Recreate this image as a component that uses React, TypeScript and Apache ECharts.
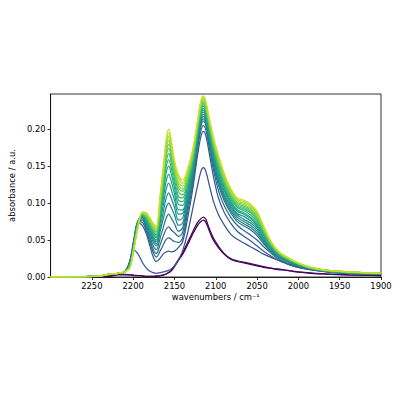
import React, { useEffect, useRef } from "react";
import * as echarts from "echarts";

// wavenumbers (cm^-1), shared x grid for all spectra
const wavenumbers = [2300, 2260, 2240, 2228, 2218, 2210, 2204, 2199, 2194, 2189, 2184, 2180, 2176, 2172, 2167, 2163, 2160, 2157, 2154, 2150, 2145, 2140, 2134, 2128, 2122, 2118, 2115, 2112, 2108, 2103, 2097, 2090, 2082, 2074, 2066, 2058, 2050, 2042, 2034, 2025, 2014, 2000, 1985, 1965, 1940, 1900];

const s01 = [0, 0, 0.0005, 0.001, 0.003, 0.003, 0.003, 0.002, 0.002, 0.0015, 0.001, 0.001, 0.001, 0.001, 0.002, 0.003, 0.004, 0.006, 0.008, 0.014, 0.023, 0.031, 0.044, 0.058, 0.070, 0.075, 0.077, 0.074, 0.063, 0.050, 0.040, 0.031, 0.024, 0.021, 0.019, 0.017, 0.015, 0.013, 0.012, 0.010, 0.009, 0.0065, 0.005, 0.004, 0.003, 0.002];
const s02 = [0, 0, 0.0005, 0.0015, 0.0035, 0.0035, 0.003, 0.0025, 0.002, 0.0015, 0.001, 0.001, 0.001, 0.0015, 0.002, 0.003, 0.004, 0.006, 0.009, 0.015, 0.024, 0.033, 0.047, 0.061, 0.074, 0.079, 0.081, 0.078, 0.066, 0.053, 0.042, 0.032, 0.025, 0.022, 0.020, 0.018, 0.016, 0.014, 0.012, 0.011, 0.009, 0.007, 0.0055, 0.004, 0.003, 0.002];
const s03 = [0, 0.0005, 0.0015, 0.004, 0.005, 0.008, 0.020, 0.036, 0.031, 0.020, 0.012, 0.008, 0.006, 0.005, 0.006, 0.007, 0.008, 0.009, 0.011, 0.015, 0.023, 0.036, 0.060, 0.092, 0.124, 0.143, 0.148, 0.143, 0.125, 0.103, 0.085, 0.071, 0.058, 0.051, 0.046, 0.041, 0.036, 0.031, 0.027, 0.023, 0.018, 0.013, 0.010, 0.007, 0.005, 0.004];
const s04 = [0, 0.0005, 0.0015, 0.004, 0.005, 0.007, 0.022, 0.052, 0.073, 0.070, 0.058, 0.043, 0.028, 0.021, 0.026, 0.032, 0.034, 0.035, 0.034, 0.035, 0.040, 0.048, 0.080, 0.118, 0.165, 0.190, 0.197, 0.191, 0.168, 0.137, 0.108, 0.088, 0.073, 0.062, 0.055, 0.049, 0.042, 0.035, 0.029, 0.023, 0.018, 0.013, 0.010, 0.007, 0.005, 0.004];
const s05 = [0, 0.0005, 0.0015, 0.004, 0.005, 0.007, 0.021, 0.050, 0.075, 0.074, 0.062, 0.048, 0.034, 0.027, 0.036, 0.045, 0.051, 0.053, 0.051, 0.048, 0.047, 0.054, 0.088, 0.124, 0.173, 0.198, 0.205, 0.199, 0.176, 0.146, 0.118, 0.097, 0.081, 0.070, 0.063, 0.057, 0.050, 0.041, 0.033, 0.025, 0.019, 0.014, 0.010, 0.007, 0.005, 0.004];
const s06 = [0, 0.0005, 0.0015, 0.004, 0.005, 0.007, 0.020, 0.049, 0.076, 0.077, 0.065, 0.052, 0.038, 0.032, 0.045, 0.057, 0.065, 0.068, 0.064, 0.060, 0.055, 0.061, 0.095, 0.130, 0.179, 0.204, 0.211, 0.205, 0.182, 0.152, 0.125, 0.104, 0.087, 0.075, 0.069, 0.064, 0.056, 0.045, 0.035, 0.027, 0.021, 0.015, 0.011, 0.008, 0.005, 0.004];
const s07 = [0, 0.0005, 0.0015, 0.004, 0.005, 0.007, 0.019, 0.047, 0.076, 0.079, 0.068, 0.056, 0.043, 0.037, 0.054, 0.069, 0.080, 0.085, 0.080, 0.072, 0.062, 0.067, 0.099, 0.134, 0.182, 0.207, 0.214, 0.208, 0.185, 0.156, 0.129, 0.107, 0.090, 0.078, 0.072, 0.067, 0.059, 0.047, 0.036, 0.028, 0.021, 0.015, 0.011, 0.008, 0.006, 0.004];
const s08 = [0, 0.0005, 0.0015, 0.004, 0.005, 0.007, 0.018, 0.046, 0.076, 0.080, 0.071, 0.060, 0.048, 0.042, 0.063, 0.081, 0.094, 0.100, 0.094, 0.084, 0.070, 0.073, 0.104, 0.137, 0.185, 0.210, 0.217, 0.211, 0.188, 0.159, 0.132, 0.110, 0.093, 0.081, 0.075, 0.070, 0.062, 0.049, 0.038, 0.028, 0.022, 0.016, 0.011, 0.008, 0.006, 0.004];
const s09 = [0, 0.0005, 0.0015, 0.004, 0.005, 0.007, 0.017, 0.045, 0.076, 0.081, 0.073, 0.062, 0.051, 0.045, 0.070, 0.091, 0.107, 0.114, 0.107, 0.094, 0.077, 0.080, 0.109, 0.141, 0.188, 0.213, 0.220, 0.214, 0.191, 0.162, 0.136, 0.113, 0.096, 0.084, 0.078, 0.073, 0.065, 0.051, 0.039, 0.029, 0.022, 0.016, 0.011, 0.008, 0.006, 0.004];
const s10 = [0, 0.0005, 0.0015, 0.004, 0.005, 0.007, 0.016, 0.044, 0.075, 0.082, 0.074, 0.064, 0.053, 0.048, 0.076, 0.101, 0.119, 0.127, 0.119, 0.104, 0.085, 0.086, 0.114, 0.145, 0.190, 0.217, 0.223, 0.217, 0.194, 0.166, 0.139, 0.117, 0.099, 0.086, 0.082, 0.076, 0.068, 0.053, 0.040, 0.030, 0.023, 0.016, 0.012, 0.008, 0.006, 0.004];
const s11 = [0, 0.0005, 0.0015, 0.004, 0.005, 0.007, 0.016, 0.044, 0.075, 0.083, 0.076, 0.066, 0.055, 0.050, 0.081, 0.110, 0.130, 0.139, 0.130, 0.113, 0.091, 0.091, 0.118, 0.148, 0.193, 0.220, 0.226, 0.219, 0.197, 0.169, 0.143, 0.120, 0.101, 0.089, 0.085, 0.079, 0.070, 0.056, 0.042, 0.031, 0.023, 0.017, 0.012, 0.008, 0.006, 0.004];
const s12 = [0, 0.0005, 0.0015, 0.004, 0.005, 0.007, 0.015, 0.043, 0.074, 0.084, 0.077, 0.068, 0.058, 0.053, 0.087, 0.118, 0.141, 0.150, 0.140, 0.121, 0.098, 0.097, 0.122, 0.151, 0.195, 0.222, 0.228, 0.221, 0.199, 0.171, 0.145, 0.122, 0.103, 0.091, 0.087, 0.081, 0.072, 0.057, 0.043, 0.031, 0.024, 0.017, 0.012, 0.008, 0.006, 0.005];
const s13 = [0, 0.0005, 0.0015, 0.004, 0.005, 0.007, 0.015, 0.042, 0.073, 0.084, 0.079, 0.070, 0.060, 0.055, 0.091, 0.125, 0.149, 0.159, 0.148, 0.128, 0.104, 0.102, 0.126, 0.155, 0.198, 0.225, 0.231, 0.224, 0.202, 0.175, 0.149, 0.126, 0.106, 0.094, 0.090, 0.084, 0.075, 0.059, 0.044, 0.032, 0.024, 0.017, 0.012, 0.008, 0.006, 0.005];
const s14 = [0, 0.0005, 0.0015, 0.004, 0.005, 0.007, 0.014, 0.042, 0.073, 0.085, 0.080, 0.072, 0.062, 0.057, 0.095, 0.130, 0.156, 0.167, 0.156, 0.133, 0.109, 0.107, 0.129, 0.157, 0.200, 0.227, 0.233, 0.226, 0.204, 0.177, 0.152, 0.128, 0.108, 0.096, 0.092, 0.087, 0.077, 0.061, 0.045, 0.033, 0.025, 0.018, 0.012, 0.009, 0.006, 0.005];
const s15 = [0, 0.0005, 0.0015, 0.004, 0.005, 0.007, 0.014, 0.041, 0.072, 0.085, 0.081, 0.073, 0.064, 0.059, 0.099, 0.136, 0.163, 0.174, 0.162, 0.139, 0.115, 0.111, 0.132, 0.160, 0.202, 0.229, 0.235, 0.228, 0.206, 0.179, 0.154, 0.130, 0.110, 0.098, 0.094, 0.089, 0.079, 0.062, 0.046, 0.033, 0.025, 0.018, 0.012, 0.009, 0.007, 0.005];
const s16 = [0, 0.0005, 0.0015, 0.004, 0.005, 0.007, 0.014, 0.040, 0.071, 0.086, 0.082, 0.075, 0.066, 0.061, 0.102, 0.140, 0.168, 0.180, 0.168, 0.143, 0.120, 0.116, 0.135, 0.162, 0.204, 0.231, 0.237, 0.230, 0.208, 0.181, 0.156, 0.132, 0.112, 0.100, 0.096, 0.091, 0.081, 0.063, 0.047, 0.034, 0.026, 0.018, 0.012, 0.009, 0.007, 0.005];
const s17 = [0, 0.0005, 0.0015, 0.004, 0.005, 0.007, 0.013, 0.040, 0.070, 0.086, 0.083, 0.076, 0.067, 0.063, 0.105, 0.144, 0.173, 0.185, 0.172, 0.147, 0.124, 0.119, 0.138, 0.165, 0.206, 0.233, 0.239, 0.232, 0.210, 0.183, 0.159, 0.134, 0.114, 0.101, 0.098, 0.093, 0.083, 0.065, 0.047, 0.034, 0.026, 0.018, 0.013, 0.009, 0.007, 0.005];
const s18 = [0, 0.0005, 0.0015, 0.004, 0.005, 0.007, 0.013, 0.039, 0.070, 0.087, 0.085, 0.078, 0.069, 0.065, 0.109, 0.148, 0.178, 0.190, 0.177, 0.151, 0.128, 0.123, 0.141, 0.167, 0.208, 0.235, 0.241, 0.234, 0.212, 0.186, 0.161, 0.137, 0.116, 0.103, 0.100, 0.095, 0.085, 0.066, 0.048, 0.035, 0.026, 0.019, 0.013, 0.009, 0.007, 0.005];
const s19 = [0, 0.0005, 0.0015, 0.004, 0.005, 0.007, 0.012, 0.039, 0.069, 0.087, 0.086, 0.079, 0.071, 0.067, 0.112, 0.151, 0.182, 0.195, 0.181, 0.154, 0.134, 0.127, 0.144, 0.170, 0.210, 0.237, 0.243, 0.236, 0.214, 0.188, 0.164, 0.139, 0.118, 0.105, 0.102, 0.097, 0.087, 0.068, 0.049, 0.035, 0.027, 0.019, 0.013, 0.009, 0.007, 0.005];
const s20 = [0, 0.0005, 0.0015, 0.004, 0.005, 0.007, 0.012, 0.038, 0.068, 0.088, 0.087, 0.081, 0.073, 0.069, 0.115, 0.155, 0.187, 0.200, 0.186, 0.158, 0.138, 0.131, 0.147, 0.172, 0.212, 0.239, 0.245, 0.238, 0.216, 0.190, 0.166, 0.141, 0.120, 0.107, 0.104, 0.099, 0.089, 0.069, 0.050, 0.036, 0.027, 0.019, 0.013, 0.009, 0.007, 0.005];

const spectra = [s01, s02, s03, s04, s05, s06, s07, s08, s09, s10, s11, s12, s13, s14, s15, s16, s17, s18, s19, s20];

const lineColors = [
  "#440154", "#46085c", "#3b528b", "#355f8d", "#30698e", "#2c728e", "#287c8e",
  "#24868e", "#21908d", "#1f998a", "#1fa188", "#24aa83", "#2eb37c", "#3bbb75",
  "#51c56a", "#65cb5e", "#7fd34e", "#98d83e", "#b2dd2d", "#c8e020",
];

const xTicks = [2250, 2200, 2150, 2100, 2050, 2000, 1950, 1900];
const yTicks = [0, 0.05, 0.1, 0.15, 0.2];

const FONT = "DejaVu Sans";

export default function App() {
  const ref = useRef<HTMLDivElement>(null);
  useEffect(() => {
    if (!ref.current) return;
    const chart = echarts.init(ref.current, undefined, { renderer: "svg" });
    const series = spectra.map((s, idx) => ({
      type: "line",
      data: wavenumbers.map((w, i) => [w, s[i]]),
      showSymbol: false,
      symbol: "none",
      smooth: 0.35,
      silent: true,
      lineStyle: { width: 1.25, color: lineColors[idx] },
      itemStyle: { color: lineColors[idx] },
      z: 2,
    }));
    chart.setOption({
      animation: false,
      backgroundColor: "#ffffff",
      grid: {
        left: 44, right: 19, top: 94, bottom: 123,
        show: true, borderColor: "#000", borderWidth: 0.8,
        backgroundColor: "transparent",
      },
      xAxis: {
        type: "value",
        min: 1900,
        max: 2300,
        inverse: true,
        name: "wavenumbers / cm⁻¹",
        nameLocation: "middle",
        nameGap: 16,
        nameTextStyle: { fontFamily: FONT, fontSize: 8.4, color: "#000" },
        axisLine: { show: true, onZero: false, lineStyle: { color: "#000", width: 0.8 } },
        axisTick: { show: true, inside: false, length: 3, lineStyle: { color: "#000", width: 0.8 }, customValues: xTicks },
        axisLabel: {
          customValues: xTicks, margin: 5, fontSize: 8.4, fontFamily: FONT, color: "#000",
          formatter: (v: number) => String(Math.round(v)),
        },
        splitLine: { show: false },
      },
      yAxis: {
        type: "value",
        min: 0,
        max: 0.2477,
        name: "absorbance / a.u.",
        nameLocation: "middle",
        nameGap: 27,
        nameTextStyle: { fontFamily: FONT, fontSize: 8.4, color: "#000" },
        axisLine: { show: true, onZero: false, lineStyle: { color: "#000", width: 0.8 } },
        axisTick: { show: true, inside: false, length: 3, lineStyle: { color: "#000", width: 0.8 }, customValues: yTicks },
        axisLabel: {
          customValues: yTicks, margin: 5, fontSize: 8.4, fontFamily: FONT, color: "#000",
          formatter: (v: number) => v.toFixed(2),
        },
        splitLine: { show: false },
      },
      series,
    });
    return () => chart.dispose();
  }, []);
  return (
    <div
      ref={ref}
      style={{ position: "fixed", left: 0, top: 0, width: 400, height: 400, background: "#fff" }}
    />
  );
}
